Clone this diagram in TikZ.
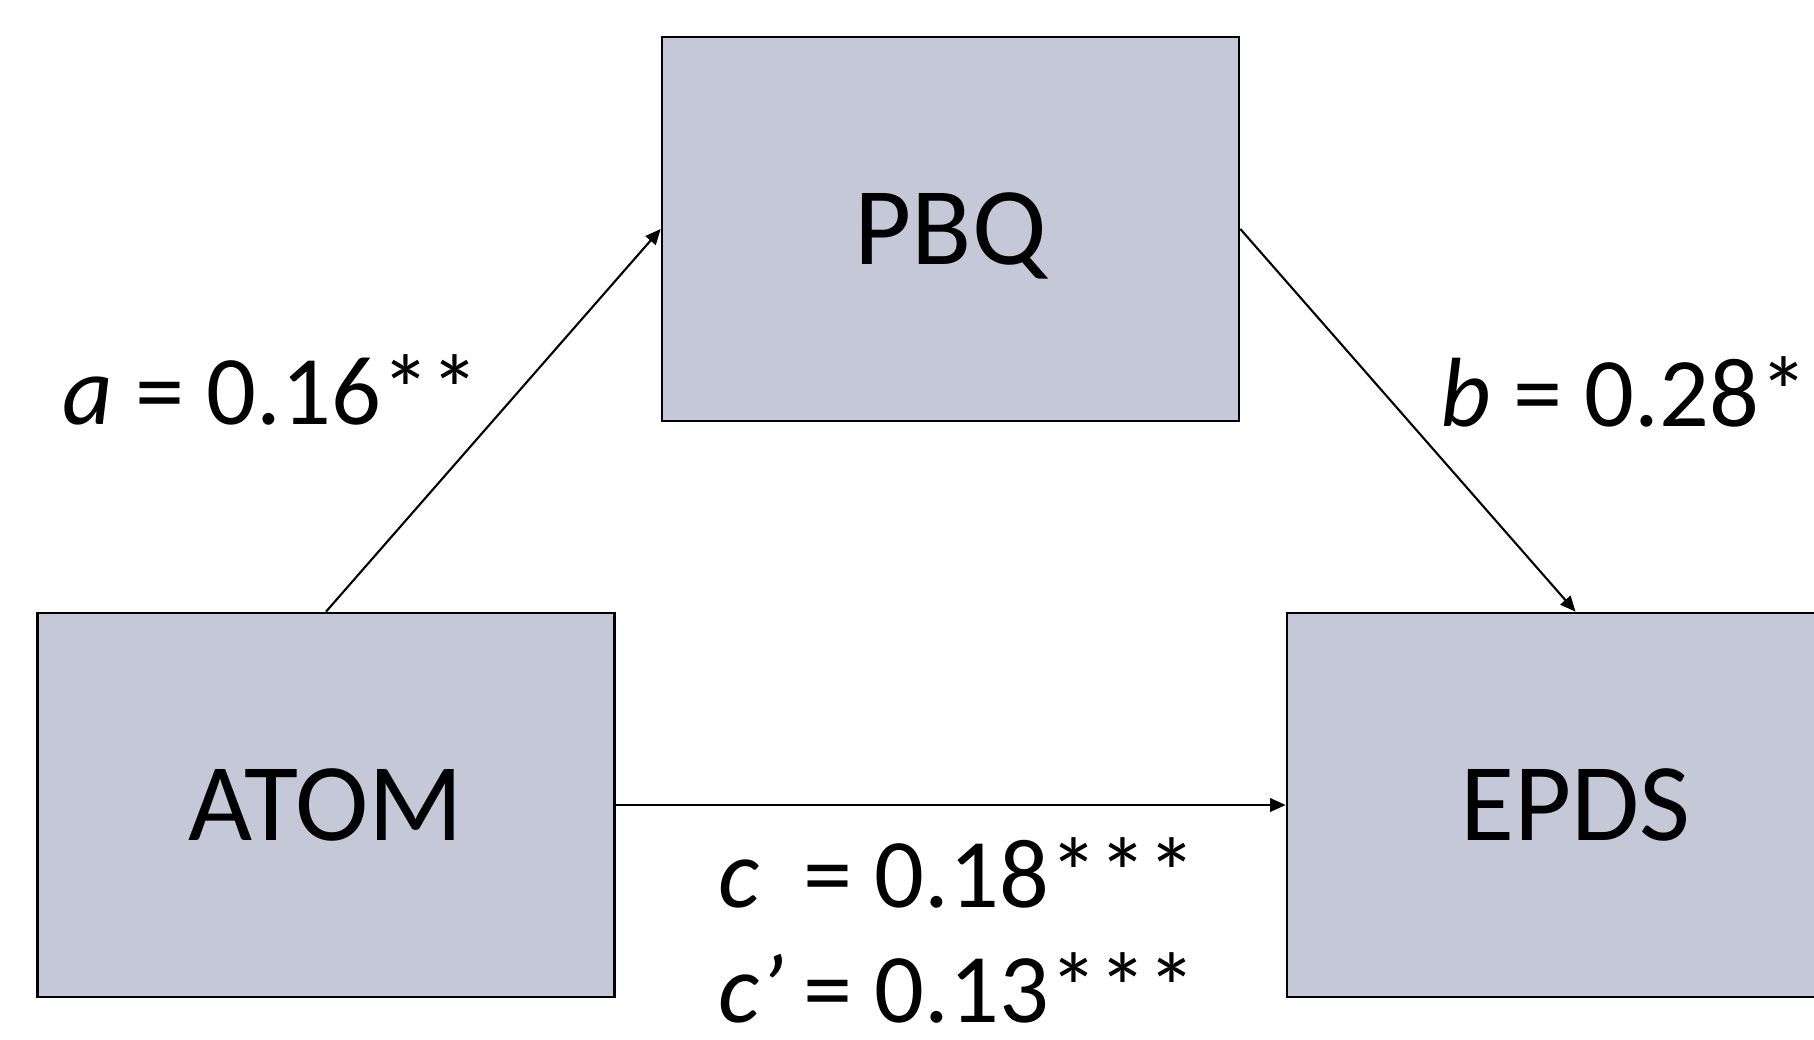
\documentclass[tikz,border=0pt]{standalone}
\usepackage{fontspec}
\setmainfont{Carlito}
\usetikzlibrary{arrows.meta}
\definecolor{boxfill}{RGB}{197,200,214}
\tikzset{
  varbox/.style={draw=black, fill=boxfill, line width=0.75pt, minimum width=5.77cm,
    minimum height=3.84cm, inner sep=0pt, text depth=0pt,
    font=\fontsize{31.5}{36}\selectfont},
  path/.style={line width=0.6pt, -{Triangle[length=4.4pt,width=3.8pt]}},
  coef/.style={anchor=base west, inner sep=0pt, font=\fontsize{28}{32}\selectfont}
}
\begin{document}
\begin{tikzpicture}
\useasboundingbox (0,0) rectangle (18.14,10.39);
\clip (0,0) rectangle (18.14,10.39);
% variables
\node[varbox] (pbq)  at (9.505,8.10) {PBQ};
\node[varbox] (atom) at (3.26,2.34)  {ATOM};
\node[varbox] (epds) at (15.755,2.34) {EPDS};
% paths
\draw[path] (atom.north) -- (pbq.west);
\draw[path] (pbq.east) -- (epds.north);
\draw[path] (atom.east) -- (epds.west);
% coefficients
\node[coef] (alab)  at (0.62,6.14)  {\textit{a} = 0.16**};
\node[coef] (blab)  at (14.40,6.12) {\textit{b} = 0.28**};
\node[coef] (clab)  at (7.18,1.32)  {\makebox[0.85cm][l]{\textit{c}}= 0.18***};
\node[coef] (cplab) at (7.18,0.17)  {\makebox[0.85cm][l]{\textit{c’}}= 0.13***};
\end{tikzpicture}
\end{document}
